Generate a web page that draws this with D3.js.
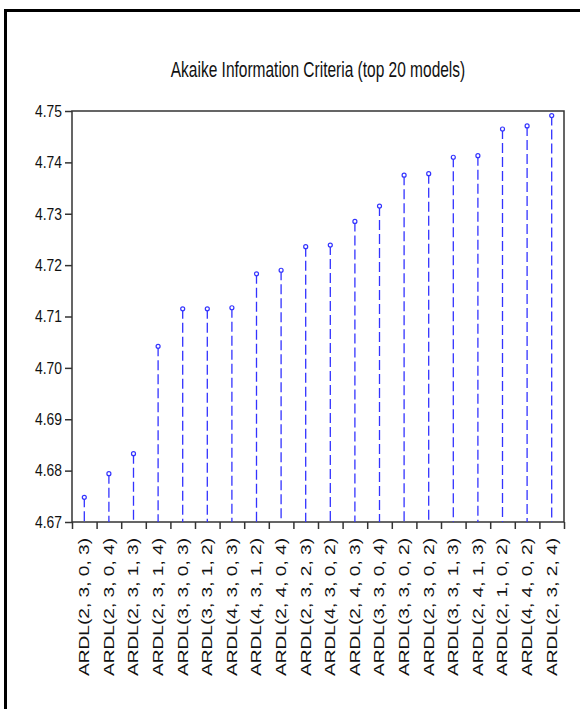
<!DOCTYPE html>
<html>
<head>
<meta charset="utf-8">
<script src="https://cdn.jsdelivr.net/npm/d3@7"></script>
<style>
  body { margin: 0; background: #fff; }
  text { font-family: 'Liberation Sans', Arial, sans-serif; fill: #111; }
</style>
</head>
<body>
<div id="chart"></div>
<script>
var chart_width = 580
var chart_height = 709

// models, sorted by AIC
var models = [
  'ARDL(2, 3, 0, 3)', 'ARDL(2, 3, 0, 4)', 'ARDL(2, 3, 1, 3)', 'ARDL(2, 3, 1, 4)',
  'ARDL(3, 3, 0, 3)', 'ARDL(3, 3, 1, 2)', 'ARDL(4, 3, 0, 3)', 'ARDL(4, 3, 1, 2)',
  'ARDL(2, 4, 0, 4)', 'ARDL(2, 3, 2, 3)', 'ARDL(4, 3, 0, 2)', 'ARDL(2, 4, 0, 3)',
  'ARDL(3, 3, 0, 4)', 'ARDL(3, 3, 0, 2)', 'ARDL(2, 3, 0, 2)', 'ARDL(3, 3, 1, 3)',
  'ARDL(2, 4, 1, 3)', 'ARDL(2, 1, 0, 2)', 'ARDL(4, 4, 0, 2)', 'ARDL(2, 3, 2, 4)'
]
var aic = [
  4.6748, 4.6794, 4.6833, 4.7042, 4.7115, 4.7115, 4.7117, 4.7183,
  4.7190, 4.7236, 4.7239, 4.7285, 4.7315, 4.7375, 4.7378, 4.7410,
  4.7413, 4.7465, 4.7471, 4.7491
]
var y_ticks = [4.67, 4.68, 4.69, 4.70, 4.71, 4.72, 4.73, 4.74, 4.75]
var title = 'Akaike Information Criteria (top 20 models)'

var plot = { left: 72, right: 564, top: 111, bottom: 522 }

var data = models.map(function(m, i) { return { model: m, value: aic[i] } })

var svg = d3.select('#chart')
  .append('svg')
  .attr('width', chart_width)
  .attr('height', chart_height)

// outer frame (runs off the page on the right and bottom)
svg.append('rect')
  .attr('x', 5.5)
  .attr('y', 10.5)
  .attr('width', 640)
  .attr('height', 760)
  .attr('fill', 'none')
  .attr('stroke', '#000')
  .attr('stroke-width', 3)

// scales
var x_scale = d3.scaleBand()
  .domain(models)
  .range([plot.left, plot.right])

var x_edges = d3.scaleLinear()
  .domain([0, models.length])
  .range([plot.left, plot.right])

var y_scale = d3.scaleLinear()
  .domain([4.67, 4.75])
  .range([plot.bottom, plot.top])

// title (the source image is stretched vertically)
svg.append('text')
  .attr('transform', 'translate(' + ((plot.left + plot.right) / 2) + ', 76.5) scale(1, 1.4)')
  .attr('text-anchor', 'middle')
  .attr('font-size', 15.5)
  .text(title)

// plot box
svg.append('rect')
  .attr('x', plot.left)
  .attr('y', plot.top)
  .attr('width', plot.right - plot.left)
  .attr('height', plot.bottom - plot.top)
  .attr('fill', 'none')
  .attr('stroke', '#333')
  .attr('stroke-width', 1.5)

// y axis
var y_axis = d3.axisLeft(y_scale)
  .tickValues(y_ticks)
  .tickFormat(d3.format('.2f'))
  .tickSize(7)
  .tickPadding(3)
var gy = svg.append('g')
  .attr('class', 'y-axis')
  .attr('transform', 'translate(' + plot.left + ', 0)')
  .call(y_axis)
gy.select('.domain').remove()
gy.selectAll('.tick line').attr('stroke', '#333').attr('stroke-width', 1.5)
gy.selectAll('.tick text')
  .attr('font-size', 16.5)
  .attr('font-family', null)
  .attr('textLength', 27)
  .attr('lengthAdjust', 'spacingAndGlyphs')
  .attr('fill', '#111')

// x axis: ticks at the category edges
var x_axis = d3.axisBottom(x_edges)
  .tickValues(d3.range(models.length + 1))
  .tickFormat('')
  .tickSize(7)
var gx = svg.append('g')
  .attr('class', 'x-axis')
  .attr('transform', 'translate(0, ' + plot.bottom + ')')
  .call(x_axis)
gx.select('.domain').remove()
gx.selectAll('.tick line').attr('stroke', '#333').attr('stroke-width', 1.5)

// rotated category labels
svg.append('g')
  .selectAll('text')
  .data(models)
  .enter()
  .append('text')
  .attr('transform', d => 'translate(' + (x_scale(d) + x_scale.bandwidth() / 2) + ', 538) rotate(-90)')
  .attr('text-anchor', 'end')
  .attr('dy', '0.35em')
  .attr('font-size', 14)
  .attr('textLength', 138)
  .attr('lengthAdjust', 'spacingAndGlyphs')
  .text(d => d)

// dashed stems
svg.append('g')
  .selectAll('line')
  .data(data)
  .enter()
  .append('line')
  .attr('x1', d => x_scale(d.model) + x_scale.bandwidth() / 2)
  .attr('x2', d => x_scale(d.model) + x_scale.bandwidth() / 2)
  .attr('y1', d => y_scale(d.value))
  .attr('y2', plot.bottom)
  .attr('stroke', '#3333ff')
  .attr('stroke-width', 1.3)
  .attr('stroke-dasharray', '10,4')

// markers
svg.append('g')
  .selectAll('circle')
  .data(data)
  .enter()
  .append('circle')
  .attr('cx', d => x_scale(d.model) + x_scale.bandwidth() / 2)
  .attr('cy', d => y_scale(d.value))
  .attr('r', 2)
  .attr('fill', '#fff')
  .attr('stroke', '#3333ff')
  .attr('stroke-width', 1.2)
</script>
</body>
</html>
